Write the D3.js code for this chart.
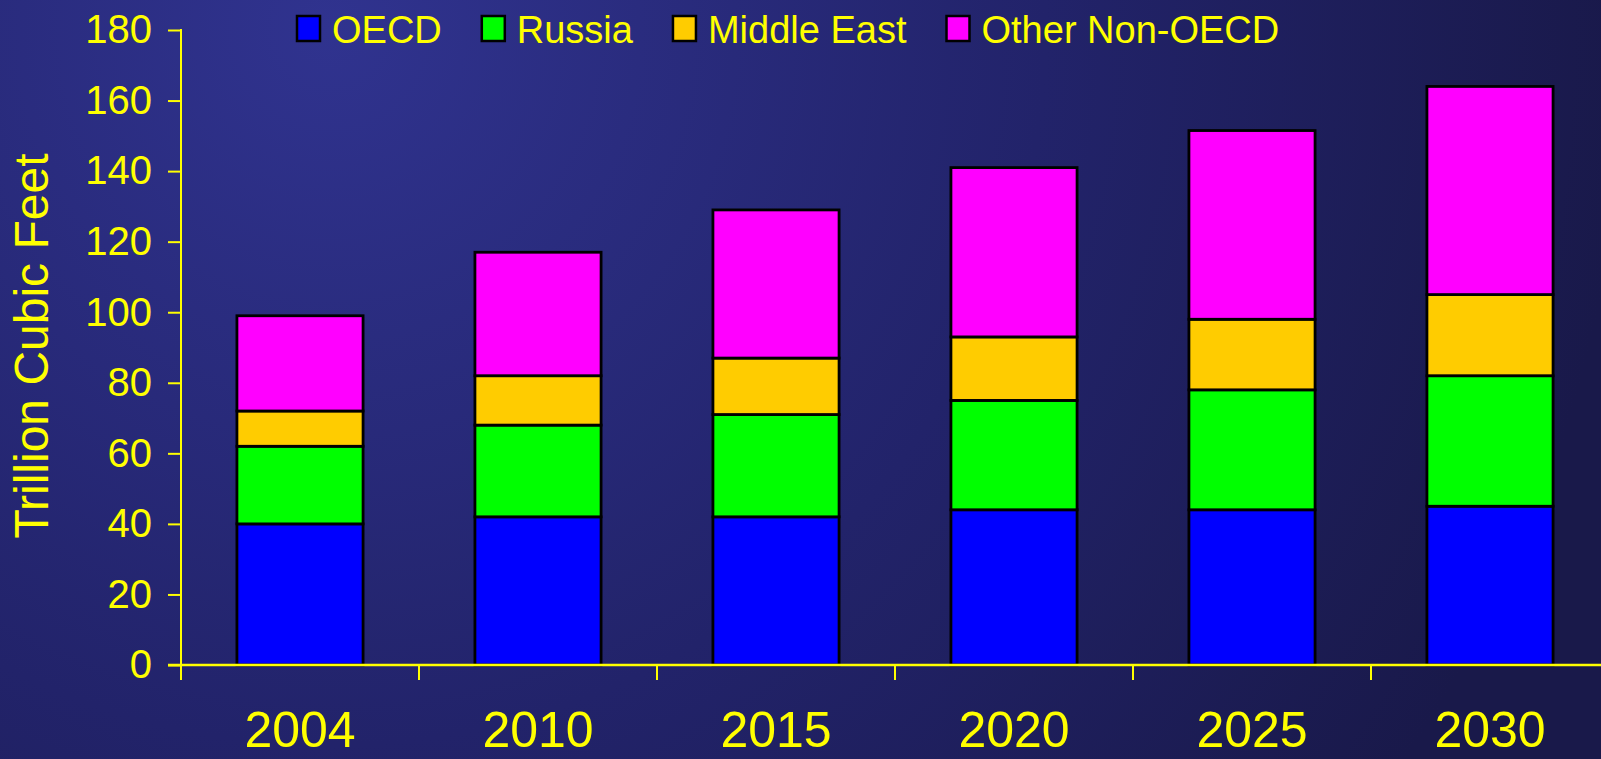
<!DOCTYPE html>
<html>
<head>
<meta charset="utf-8">
<script src="https://cdn.jsdelivr.net/npm/d3@7"></script>
<style>
  html, body { margin: 0; padding: 0; background: #1c1c50; }
  svg { display: block; }
  text { font-family: "Liberation Sans", Arial, sans-serif; }
</style>
</head>
<body>
<svg id="chart" width="1601" height="759"></svg>
<script>
const years = ["2004", "2010", "2015", "2020", "2025", "2030"];
const seriesNames = ["OECD", "Russia", "Middle East", "Other Non-OECD"];
const oecd = [40, 42, 42, 44, 44, 45];
const russia = [22, 26, 29, 31, 34, 37];
const middleEast = [10, 14, 16, 18, 20, 23];
const otherNonOecd = [27, 35, 42, 48, 53.5, 59];
const yTicks = [0, 20, 40, 60, 80, 100, 120, 140, 160, 180];
const colors = ["#0000ff", "#00ff00", "#ffcc00", "#ff00ff"];
const yTitle = "Trillion Cubic Feet";

const W = 1601, H = 759;
const svg = d3.select("#chart");
const yellow = "#ffff00";

// background
const defs = svg.append("defs");
const grad = defs.append("radialGradient").attr("id", "bg")
  .attr("gradientUnits", "userSpaceOnUse")
  .attr("cx", 330).attr("cy", 30).attr("r", 1300);
grad.append("stop").attr("offset", 0).attr("stop-color", "#30338f");
grad.append("stop").attr("offset", 0.55).attr("stop-color", "#22236a");
grad.append("stop").attr("offset", 1).attr("stop-color", "#19194a");
svg.append("rect").attr("width", W).attr("height", H).attr("fill", "url(#bg)");

const table = years.map((y, i) => ({
  year: y,
  "OECD": oecd[i],
  "Russia": russia[i],
  "Middle East": middleEast[i],
  "Other Non-OECD": otherNonOecd[i]
}));
const stacked = d3.stack().keys(seriesNames)(table);

const x0 = 181, y0 = 665, yTop = 30;
const x = d3.scaleBand().domain(years).range([x0, x0 + 6 * 238])
  .paddingInner(0.47).paddingOuter(0.235);
const y = d3.scaleLinear().domain([0, 180]).range([y0, yTop]);

// bars
const g = svg.append("g");
stacked.forEach((s, si) => {
  g.selectAll(null).data(s).enter().append("rect")
    .attr("x", d => x(d.data.year))
    .attr("width", x.bandwidth())
    .attr("y", d => y(d[1]))
    .attr("height", d => y(d[0]) - y(d[1]))
    .attr("fill", colors[si])
    .attr("stroke", "#000")
    .attr("stroke-width", 2.8);
});

// y axis
const yAxis = svg.append("g").attr("transform", `translate(${x0},0)`)
  .call(d3.axisLeft(y).tickValues(yTicks).tickSize(13).tickSizeOuter(0).tickPadding(16));
yAxis.select(".domain").remove();
yAxis.selectAll(".tick line").attr("stroke", yellow).attr("stroke-width", 2);
yAxis.selectAll(".tick text").attr("fill", yellow).attr("font-size", 40)
  .attr("font-family", "Liberation Sans, Arial, sans-serif");
svg.append("line").attr("x1", x0).attr("x2", x0).attr("y1", yTop - 1).attr("y2", y0 + 15)
  .attr("stroke", yellow).attr("stroke-width", 2);

// x axis
svg.append("line").attr("x1", x0 - 13).attr("x2", W).attr("y1", y0).attr("y2", y0)
  .attr("stroke", yellow).attr("stroke-width", 2.5);
const step = x.step();
const bounds = d3.range(years.length + 1).map(i => x0 + i * step);
svg.selectAll(null).data(bounds.slice(1)).enter().append("line")
  .attr("x1", d => d).attr("x2", d => d).attr("y1", y0).attr("y2", y0 + 15)
  .attr("stroke", yellow).attr("stroke-width", 2);
svg.selectAll(null).data(years).enter().append("text")
  .attr("x", d => x(d) + x.bandwidth() / 2)
  .attr("y", 747)
  .attr("text-anchor", "middle")
  .attr("fill", yellow).attr("font-size", 50)
  .text(d => d);

// y title
svg.append("text")
  .attr("transform", "translate(48,346) rotate(-90)")
  .attr("text-anchor", "middle")
  .attr("fill", yellow).attr("font-size", 48)
  .text(yTitle);

// legend
const leg = svg.append("g");
let lx = 297;
seriesNames.forEach((n, i) => {
  leg.append("rect").attr("x", lx).attr("y", 16).attr("width", 23).attr("height", 25)
    .attr("fill", colors[i]).attr("stroke", "#000").attr("stroke-width", 2.5);
  const t = leg.append("text").attr("x", lx + 35).attr("y", 43)
    .attr("fill", yellow).attr("font-size", 38).text(n);
  lx = lx + 35 + t.node().getComputedTextLength() + 40;
});
</script>
</body>
</html>
